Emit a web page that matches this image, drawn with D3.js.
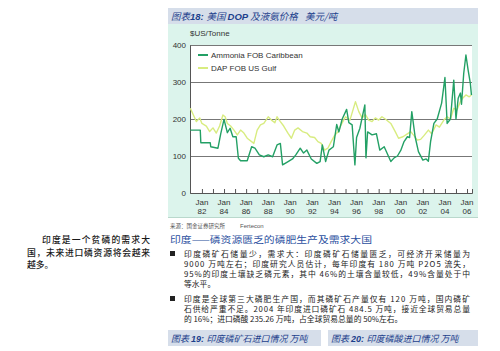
<!DOCTYPE html>
<html>
<head>
<meta charset="utf-8">
<script src="https://cdn.jsdelivr.net/npm/d3@7"></script>
<style>
  body { margin: 0; background: #fff; }
  svg { display: block; }
  .cn { font-family: "Noto Sans CJK SC", "Noto Sans", sans-serif; }
  .lat { font-family: "Liberation Sans Narrow", "Liberation Sans", Arial, sans-serif; }
</style>
</head>
<body>
<div id="chart"></div>
<script>
// Ammonia FOB Caribbean (decimal year, $US/t)
const ammoniaYears = [1980.95, 1981.85, 1981.9, 1982.75, 1982.8, 1983.45, 1983.7, 1984.0, 1984.3, 1984.55, 1984.8, 1985.1, 1985.3, 1985.5, 1986.1, 1986.5, 1986.8, 1987.2, 1987.6, 1988.0, 1988.4, 1988.8, 1989.1, 1989.3, 1989.8, 1990.2, 1990.5, 1990.9, 1991.2, 1991.5, 1991.9, 1992.4, 1992.7, 1992.9, 1993.2, 1993.5, 1993.9, 1994.2, 1994.4, 1994.7, 1995.1, 1995.3, 1995.6, 1995.85, 1996.0, 1996.3, 1996.75, 1996.85, 1997.0, 1997.4, 1997.8, 1998.1, 1998.5, 1999.1, 1999.4, 1999.7, 2000.0, 2000.3, 2000.6, 2000.8, 2001.0, 2001.3, 2001.6, 2002.0, 2002.3, 2002.5, 2002.7, 2003.0, 2003.3, 2003.7, 2004.0, 2004.2, 2004.5, 2004.8, 2005.0, 2005.2, 2005.4, 2005.5, 2005.7, 2005.9, 2006.1, 2006.3, 2006.4];
const ammoniaValues = [170, 170, 136, 136, 125, 121, 160, 199, 163, 175, 152, 152, 94, 87, 87, 125, 121, 103, 98, 103, 98, 130, 134, 76, 85, 92, 103, 121, 108, 116, 92, 80, 85, 130, 85, 116, 125, 185, 165, 200, 226, 190, 184, 76, 150, 175, 238, 95, 165, 157, 160, 116, 125, 85, 95, 100, 115, 139, 152, 150, 220, 152, 112, 89, 92, 86, 139, 188, 200, 243, 312, 188, 200, 305, 200, 256, 270, 240, 323, 373, 332, 296, 265];

// DAP FOB US Gulf (decimal year, $US/t)
const dapYears = [1980.95, 1981.3, 1981.5, 1981.8, 1982.0, 1982.4, 1982.7, 1983.0, 1983.3, 1983.6, 1983.9, 1984.1, 1984.3, 1984.6, 1984.9, 1985.2, 1985.5, 1985.8, 1986.1, 1986.7, 1987.0, 1987.3, 1987.6, 1988.0, 1988.3, 1988.6, 1988.8, 1989.1, 1989.4, 1989.8, 1990.1, 1990.4, 1990.7, 1991.1, 1991.5, 1991.8, 1992.2, 1992.5, 1992.8, 1993.1, 1993.4, 1993.7, 1994.0, 1994.3, 1994.6, 1995.0, 1995.4, 1995.9, 1996.2, 1996.5, 1996.8, 1997.1, 1997.4, 1997.7, 1998.0, 1998.3, 1998.6, 1999.1, 1999.5, 1999.8, 2000.2, 2000.6, 2000.9, 2001.2, 2001.5, 2001.8, 2002.1, 2002.5, 2002.8, 2003.2, 2003.5, 2003.9, 2004.2, 2004.5, 2004.8, 2005.1, 2005.4, 2005.6, 2005.9, 2006.2, 2006.4];
const dapValues = [229, 206, 193, 203, 188, 181, 166, 176, 162, 181, 211, 206, 188, 181, 170, 157, 170, 162, 148, 134, 170, 184, 188, 206, 197, 190, 206, 193, 181, 161, 148, 170, 176, 166, 162, 152, 150, 139, 134, 116, 121, 139, 155, 165, 184, 206, 197, 247, 220, 203, 212, 197, 193, 203, 197, 206, 200, 188, 166, 148, 152, 160, 166, 155, 143, 145, 155, 170, 160, 184, 178, 197, 206, 200, 229, 225, 247, 256, 265, 260, 265];

const yTicks = [0, 100, 200, 300, 400];
const labelYears = [1982, 1984, 1986, 1988, 1990, 1992, 1994, 1996, 1998, 2000, 2002, 2004, 2006];
const seriesNames = ['Ammonia FOB Caribbean', 'DAP FOB US Gulf'];
const seriesColors = ['#23a065', '#d8ec80'];

const bulletLines = [
  ['印度磷矿石储量少，需求大：印度磷矿石储量匮乏，可经济开采储量为', '9000 万吨左右；印度研究人员估计，每年印度有 180 万吨 P2O5 流失，', '95%的印度土壤缺乏磷元素，其中 46%的土壤含量较低，49%含量处于中', '等水平。'],
  ['印度是全球第三大磷肥生产国，而其磷矿石产量仅有 120 万吨，国内磷矿', '石供给严重不足。2004 年印度进口磷矿石 484.5 万吨，接近全球贸易总量', '的 16%；进口磷酸 235.26 万吨，占全球贸易总量的 50%左右。']
];
const sideLines = ['印度是一个贫磷的需求大', '国，未来进口磷资源将会越来', '越多。'];

const W = 500, H = 351;
const svg = d3.select('#chart').append('svg')
  .attr('width', W).attr('height', H)
  .attr('viewBox', `0 0 ${W} ${H}`);

// page furniture
svg.append('rect').attr('x', 168).attr('y', 8).attr('width', 310).attr('height', 16).attr('fill', '#d6deea');
svg.append('rect').attr('x', 168).attr('y', 24).attr('width', 310).attr('height', 193).attr('fill', '#dcf4ec');
svg.append('line').attr('x1', 168).attr('x2', 478).attr('y1', 217.5).attr('y2', 217.5).attr('stroke', '#b9d8cc');

const title = svg.append('text').attr('class', 'cn')
  .attr('x', 171).attr('y', 20).attr('fill', '#1d3f8c')
  .attr('font-size', 9.5).attr('font-style', 'italic');
title.append('tspan').text('图表');
title.append('tspan').attr('font-weight', 'bold').attr('font-family', 'Liberation Sans, Arial').text('18: ');
title.append('tspan').text('美国 ');
title.append('tspan').attr('font-weight', 'bold').attr('font-family', 'Liberation Sans, Arial').text('DOP');
title.append('tspan').text(' 及液氨价格');
title.append('tspan').attr('x', 305).text('美元/吨');

// chart
const margin = { left: 190, right: 472, top: 45, bottom: 193 };
const x = d3.scaleLinear().domain([1980.92, 2006.45]).range([margin.left, margin.right]);
const y = d3.scaleLinear().domain([0, 400]).range([margin.bottom, margin.top]);

svg.append('rect')
  .attr('x', margin.left).attr('y', margin.top)
  .attr('width', margin.right - margin.left).attr('height', margin.bottom - margin.top)
  .attr('fill', '#fff');

svg.append('g').selectAll('line').data(yTicks.filter(d => d > 0)).join('line')
  .attr('x1', margin.left).attr('x2', margin.right)
  .attr('y1', d => y(d) + 0.5).attr('y2', d => y(d) + 0.5)
  .attr('stroke', '#777').attr('stroke-width', 1);

const yAxis = svg.append('g')
  .attr('transform', `translate(${margin.left},0)`)
  .call(d3.axisLeft(y).tickValues(yTicks).tickSize(0).tickPadding(4));
yAxis.select('.domain').attr('stroke', '#555');
yAxis.selectAll('text').attr('class', 'lat').attr('font-size', 8).attr('fill', '#333');

const allYears = d3.range(1982, 2007);
const xAxis = svg.append('g')
  .attr('transform', `translate(0,${margin.bottom})`)
  .call(d3.axisBottom(x).tickValues(allYears).tickSize(-4).tickFormat(''));
xAxis.select('.domain').attr('stroke', '#555');
xAxis.selectAll('.tick line').attr('stroke', '#555');

const xl = svg.append('g').selectAll('text').data(labelYears).join('text')
  .attr('class', 'lat').attr('font-size', 8).attr('fill', '#333')
  .attr('text-anchor', 'middle');
xl.append('tspan').attr('x', d => x(d)).attr('y', 205).text('Jan');
xl.append('tspan').attr('x', d => x(d)).attr('y', 213.5).text(d => String(d).slice(2));

svg.append('text').attr('class', 'lat').attr('x', 190).attr('y', 36)
  .attr('font-size', 8).attr('fill', '#333').text('$US/Tonne');

const line = d3.line().x(d => x(d[0])).y(d => y(d[1])).curve(d3.curveLinear);
const dapPts = d3.zip(dapYears, dapValues);
const ammPts = d3.zip(ammoniaYears, ammoniaValues);

svg.append('path').datum(dapPts).attr('d', line)
  .attr('fill', 'none').attr('stroke', seriesColors[1]).attr('stroke-width', 1.4).attr('stroke-linejoin', 'round');
svg.append('path').datum(ammPts).attr('d', line)
  .attr('fill', 'none').attr('stroke', seriesColors[0]).attr('stroke-width', 1.4).attr('stroke-linejoin', 'round');

// legend
const lg = svg.append('g');
seriesNames.forEach((name, i) => {
  const ly = 55 + i * 13;
  lg.append('line').attr('x1', 198).attr('x2', 208).attr('y1', ly).attr('y2', ly)
    .attr('stroke', seriesColors[i]).attr('stroke-width', 2);
  lg.append('text').attr('class', 'lat').attr('x', 211).attr('y', ly + 3)
    .attr('font-size', 8).attr('fill', '#333').text(name);
});

// source
svg.append('text').attr('class', 'cn').attr('x', 170).attr('y', 227.5)
  .attr('font-size', 5.5).attr('fill', '#555')
  .text('来源：国金证券研究所');
svg.append('text').attr('class', 'lat').attr('x', 240).attr('y', 227.5)
  .attr('font-size', 6).attr('fill', '#555').text('Fertecon');

// section heading
svg.append('text').attr('class', 'cn').attr('x', 170).attr('y', 243)
  .attr('font-size', 8.8).attr('fill', '#2b4fa0')
  .attr('textLength', 202).attr('lengthAdjust', 'spacingAndGlyphs')
  .text('印度——磷资源匮乏的磷肥生产及需求大国');

// bullets
const bulletTop = [257, 302];
bulletLines.forEach((lines, b) => {
  svg.append('rect').attr('x', 170).attr('y', bulletTop[b] - 6).attr('width', 5).attr('height', 5).attr('fill', '#222');
  lines.forEach((t, i) => {
    const last = i === lines.length - 1;
    const tx = svg.append('text').attr('class', 'cn')
      .attr('x', 184).attr('y', bulletTop[b] + i * 10)
      .attr('font-size', 7.8).attr('fill', '#222').text(t);
    if (!last) tx.attr('textLength', 286).attr('lengthAdjust', 'spacing');
  });
});

// left side note
sideLines.forEach((t, i) => {
  const tx = svg.append('text').attr('class', 'cn')
    .attr('x', i === 0 ? 42 : 27).attr('y', 243 + i * 12.5)
    .attr('font-size', 8.8).attr('fill', '#1a1a1a').attr('font-weight', 500).text(t);
  if (i < 2) tx.attr('textLength', i === 0 ? 108 : 123).attr('lengthAdjust', 'spacing');
});

// next figure headers
const nextHeads = [
  { x: 168, w: 153, n: '19: ', t: '印度磷矿石进口情况 万吨' },
  { x: 328, w: 150, n: '20: ', t: '印度磷酸进口情况 万吨' }
];
nextHeads.forEach(h => {
  svg.append('rect').attr('x', h.x).attr('y', 330).attr('width', h.w).attr('height', 16).attr('fill', '#d6deea');
  const tt = svg.append('text').attr('class', 'cn').attr('x', h.x + 3).attr('y', 341.5)
    .attr('font-size', 9).attr('font-style', 'italic').attr('fill', '#1d3f8c');
  tt.append('tspan').text('图表 ');
  tt.append('tspan').attr('font-weight', 'bold').attr('font-family', 'Liberation Sans, Arial').text(h.n);
  tt.append('tspan').text(h.t);
});
</script>
</body>
</html>
